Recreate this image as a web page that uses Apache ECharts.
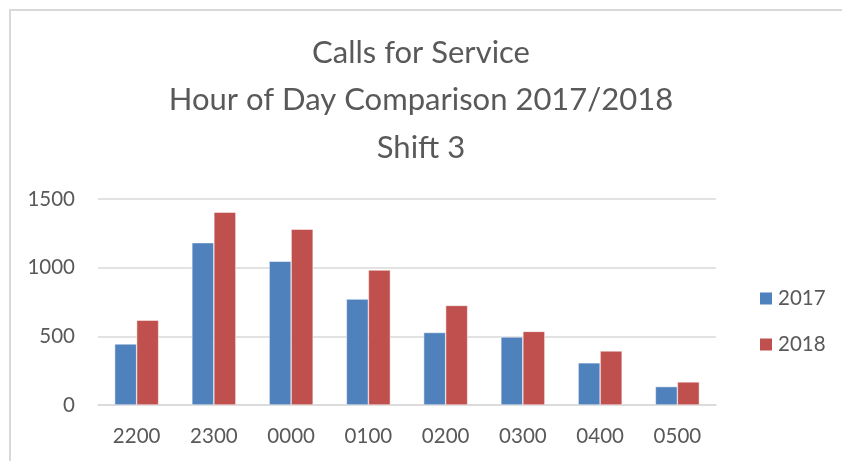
<!DOCTYPE html>
<html>
<head>
<meta charset="utf-8">
<script src="https://cdn.jsdelivr.net/npm/echarts@6/dist/echarts.min.js"></script>
<style>
  html, body { margin: 0; padding: 0; background: #fff; }
  #chart { width: 842px; height: 461px; }
</style>
</head>
<body>
<div id="chart"></div>
<script>
// hours on the x axis
const hours = ['2200', '2300', '0000', '0100', '0200', '0300', '0400', '0500'];
// calls per hour
const calls2017 = [445, 1182, 1047, 771, 528, 496, 307, 134];
const calls2018 = [618, 1404, 1280, 983, 725, 536, 394, 168];

const font = 'Lato';
const grey = '#595959';

let myChart = echarts.init(document.getElementById('chart'));
let option = {
    backgroundColor: '#fff',
    animation: false,
    title: {
        text: 'Calls for Service\nHour of Day Comparison 2017/2018\nShift 3',
        left: 'center',
        top: 24,
        textStyle: {
            color: grey,
            fontFamily: font,
            fontWeight: 'normal',
            fontSize: 31,
            lineHeight: 47.5
        }
    },
    graphic: [{
        type: 'rect',
        shape: { x: 10, y: 10, width: 860, height: 480 },
        style: { fill: 'none', stroke: '#d9d9d9', lineWidth: 2 },
        silent: true
    }],
    legend: {
        orient: 'vertical',
        left: 753,
        top: 283,
        padding: 5,
        itemWidth: 14,
        itemHeight: 14,
        itemGap: 25,
        icon: 'rect',
        textStyle: { color: grey, fontFamily: font, fontSize: 20.5 },
        data: ['2017', '2018']
    },
    grid: { left: 98, right: 126, top: 199, bottom: 56 },
    xAxis: {
        type: 'category',
        data: hours,
        axisLine: { lineStyle: { color: '#d9d9d9', width: 1.5 } },
        axisTick: { show: false },
        axisLabel: { color: grey, fontFamily: font, fontSize: 20.5, margin: 21 }
    },
    yAxis: {
        type: 'value',
        min: 0,
        max: 1500,
        interval: 500,
        axisLine: { show: false },
        axisTick: { show: false },
        splitLine: { lineStyle: { color: '#d9d9d9', width: 1.5 } },
        axisLabel: { color: grey, fontFamily: font, fontSize: 20.5, margin: 23, formatter: v => String(v) }
    },
    series: [
        {
            name: '2017',
            type: 'bar',
            data: calls2017,
            barWidth: 22,
            barGap: '0%',
            itemStyle: { color: '#4f81bd', borderColor: '#ffffff', borderWidth: 0.5 }
        },
        {
            name: '2018',
            type: 'bar',
            data: calls2018,
            barWidth: 22,
            itemStyle: { color: '#c0504d', borderColor: '#ffffff', borderWidth: 0.5 }
        }
    ]
};
myChart.setOption(option, true);
</script>
</body>
</html>
